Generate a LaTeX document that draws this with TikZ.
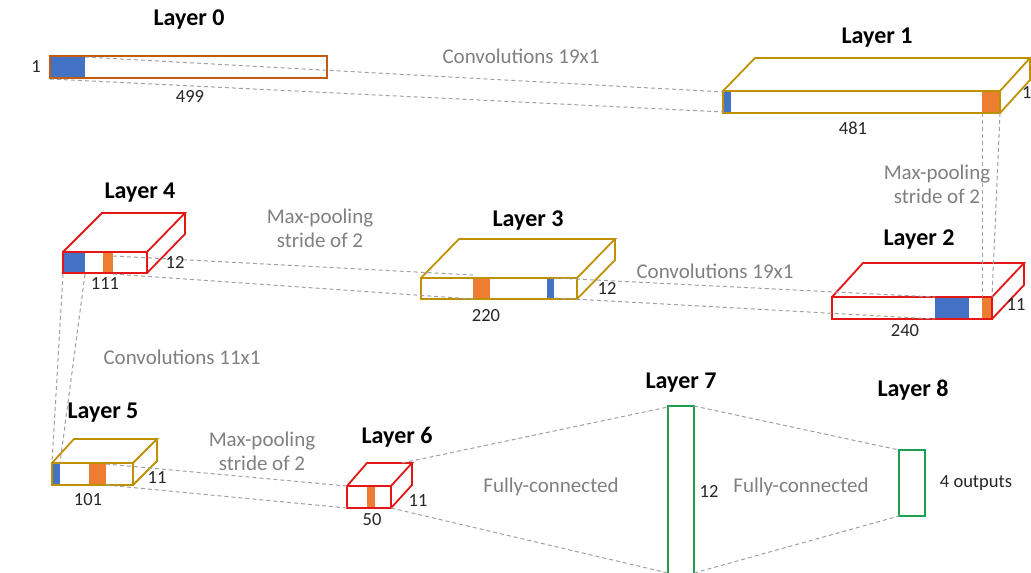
\documentclass[tikz,border=0pt]{standalone}
\usepackage{fontspec}
\setmainfont{Carlito}
\definecolor{col-blue}{RGB}{68,114,196}
\definecolor{col-orange}{RGB}{237,125,49}
\definecolor{col-layer0}{RGB}{197,90,17}
\definecolor{col-gold}{RGB}{191,144,0}
\definecolor{col-red}{RGB}{228,22,22}
\definecolor{col-green}{RGB}{30,160,80}
\definecolor{col-note}{RGB}{128,128,128}
\definecolor{col-link}{RGB}{160,160,160}

\begin{document}
\begin{tikzpicture}[x=1pt, y=-1pt, inner sep=0pt,
title/.style={font=\fontsize{24}{28}\selectfont\bfseries},
note/.style={text=col-note, font=\fontsize{21}{24}\selectfont, align=center},
num/.style={text=black!85, font=\fontsize{18.5}{22}\selectfont},
link/.style={col-link, line width=1pt, dash pattern=on 4pt off 3pt},
edge/.style={line width=1.8pt, line join=miter}]
\useasboundingbox (0,0) rectangle (1031,573);

%%%%%%%%%%%%%%%%%%%%%%%% receptive fields
\fill[col-blue] (50,56) rectangle (85,78);
\fill[col-blue] (723,91) rectangle (731,113);
\fill[col-orange] (982,91) rectangle (1000,113);
\fill[col-blue] (935,297) rectangle (969,319);
\fill[col-orange] (982,297) rectangle (992,319);
\fill[col-orange] (473,278) rectangle (490,299);
\fill[col-blue] (547,278) rectangle (554,299);
\fill[col-blue] (63,252) rectangle (85,273);
\fill[col-orange] (103,252) rectangle (113,273);
\fill[col-blue] (52,463) rectangle (60,485);
\fill[col-orange] (89,463) rectangle (106,485);
\fill[col-orange] (367,486) rectangle (375,508);

% layer 0
\draw[col-layer0, edge] (50,56) rectangle (327,78);
% layer 1
\draw[col-gold, edge] (723,91) rectangle (1000,113);
\draw[col-gold, edge] (723,91) -- (755,58) -- (1030,58) -- (1000,91);
\draw[col-gold, edge] (1000,113) -- (1030,80) -- (1030,58);
% layer 2
\draw[col-red, edge] (832,297) rectangle (992,319);
\draw[col-red, edge] (832,297) -- (863,263) -- (1024,263) -- (992,297);
\draw[col-red, edge] (992,319) -- (1024,285) -- (1024,263);
% layer 3
\draw[col-gold, edge] (421,278) rectangle (577,299);
\draw[col-gold, edge] (421,278) -- (459,239) -- (615,239) -- (577,278);
\draw[col-gold, edge] (577,299) -- (615,260) -- (615,239);
% layer 4
\draw[col-red, edge] (63,252) rectangle (147,273);
\draw[col-red, edge] (63,252) -- (102,213) -- (185,213) -- (147,252);
\draw[col-red, edge] (147,273) -- (185,234) -- (185,213);
% layer 5
\draw[col-gold, edge] (52,463) rectangle (133,485);
\draw[col-gold, edge] (52,463) -- (74,439) -- (157,439) -- (133,463);
\draw[col-gold, edge] (133,485) -- (157,461) -- (157,439);
% layer 6
\draw[col-red, edge] (347,486) rectangle (391,508);
\draw[col-red, edge] (347,486) -- (367,463) -- (412,463) -- (391,486);
\draw[col-red, edge] (391,508) -- (412,485) -- (412,463);
% layer 7 and 8
\draw[col-green, edge] (668,406) rectangle (694,578);
\draw[col-green, edge] (899,450) rectangle (925,516);

%%%%%%%%%%%%%%%%%%%%%%%% link ends
\coordinate (l0-top) at (85,57);
\coordinate (l0-bot) at (50,79);
\coordinate (l1-in-top) at (724,92);
\coordinate (l1-in-bot) at (724,112);
\coordinate (l1-out-a) at (982,113);
\coordinate (l1-out-b) at (1000,113);
\coordinate (l2-in-a) at (982,297);
\coordinate (l2-in-b) at (992,297);
\coordinate (l2-top) at (935,297);
\coordinate (l2-bot) at (935,319);
\coordinate (l3-out-top) at (555,278);
\coordinate (l3-out-bot) at (555,298);
\coordinate (l3-in-top) at (473,275);
\coordinate (l3-in-bot) at (473,299);
\coordinate (l4-out-top) at (113,256);
\coordinate (l4-out-bot) at (113,274);
\coordinate (l4-down-a) at (63,274);
\coordinate (l4-down-b) at (85,274);
\coordinate (l5-in-a) at (52,463);
\coordinate (l5-in-b) at (60,463);
\coordinate (l5-out-top) at (106,464);
\coordinate (l5-out-bot) at (106,485);
\coordinate (l6-in-top) at (347,486);
\coordinate (l6-in-bot) at (347,508);
\coordinate (l6-out-top) at (402,463);
\coordinate (l6-out-bot) at (391,508);
\coordinate (l7-in-top) at (668,407);
\coordinate (l7-in-bot) at (668,573);
\coordinate (l7-out-top) at (694,406);
\coordinate (l7-out-bot) at (694,573);
\coordinate (l8-in-top) at (899,450);
\coordinate (l8-in-bot) at (899,516);

% dashed links
\draw[link] (l0-top) -- (l1-in-top);
\draw[link] (l0-bot) -- (l1-in-bot);
\draw[link] (l1-out-a) -- (l2-in-a);
\draw[link] (l1-out-b) -- (l2-in-b);
\draw[link] (l3-out-top) -- (l2-top);
\draw[link] (l3-out-bot) -- (l2-bot);
\draw[link] (l4-out-top) -- (l3-in-top);
\draw[link] (l4-out-bot) -- (l3-in-bot);
\draw[link] (l4-down-a) -- (l5-in-a);
\draw[link] (l4-down-b) -- (l5-in-b);
\draw[link] (l5-out-top) -- (l6-in-top);
\draw[link] (l5-out-bot) -- (l6-in-bot);
\draw[link] (l6-out-top) -- (l7-in-top);
\draw[link] (l6-out-bot) -- (l7-in-bot);
\draw[link] (l7-out-top) -- (l8-in-top);
\draw[link] (l7-out-bot) -- (l8-in-bot);

%%%%%%%%%%%%%%%%%%%%%%%% titles
\node[title] (t0) at (189,20) {Layer 0};
\node[title] (t1) at (877,38) {Layer 1};
\node[title] (t2) at (919,240) {Layer 2};
\node[title] (t3) at (528,221) {Layer 3};
\node[title] (t4) at (140,193) {Layer 4};
\node[title] (t5) at (103,413) {Layer 5};
\node[title] (t6) at (397,437) {Layer 6};
\node[title] (t7) at (681,383) {Layer 7};
\node[title] (t8) at (913,390) {Layer 8};

% sizes
\node[num] (n0h) at (36,67) {1};
\node[num] (n0w) at (190,96) {499};
\node[num, anchor=west] (n1h) at (1022,93) {1};
\node[num] (n1w) at (853,128) {481};
\node[num] (n2h) at (1016,305) {11};
\node[num] (n2w) at (905,331) {240};
\node[num] (n3h) at (607,288) {12};
\node[num] (n3w) at (486,316) {220};
\node[num] (n4h) at (175,262) {12};
\node[num] (n4w) at (105,284) {111};
\node[num] (n5h) at (157,478) {11};
\node[num] (n5w) at (88,500) {101};
\node[num] (n6h) at (418,501) {11};
\node[num] (n6w) at (372,520) {50};
\node[num] (n7h) at (709,491) {12};
\node[num] (n8h) at (976,483) {4 outputs};

% operations
\node[note] (op01) at (521,56) {Convolutions 19x1};
\node[note] (op12) at (937,184) {Max-pooling\\stride of 2};
\node[note] (op23) at (715,271) {Convolutions 19x1};
\node[note] (op34) at (320,228) {Max-pooling\\stride of 2};
\node[note] (op45) at (182,357) {Convolutions 11x1};
\node[note] (op56) at (262,451) {Max-pooling\\stride of 2};
\node[note] (op67) at (551,487) {Fully-connected};
\node[note] (op78) at (801,487) {Fully-connected};
\end{tikzpicture}
\end{document}
